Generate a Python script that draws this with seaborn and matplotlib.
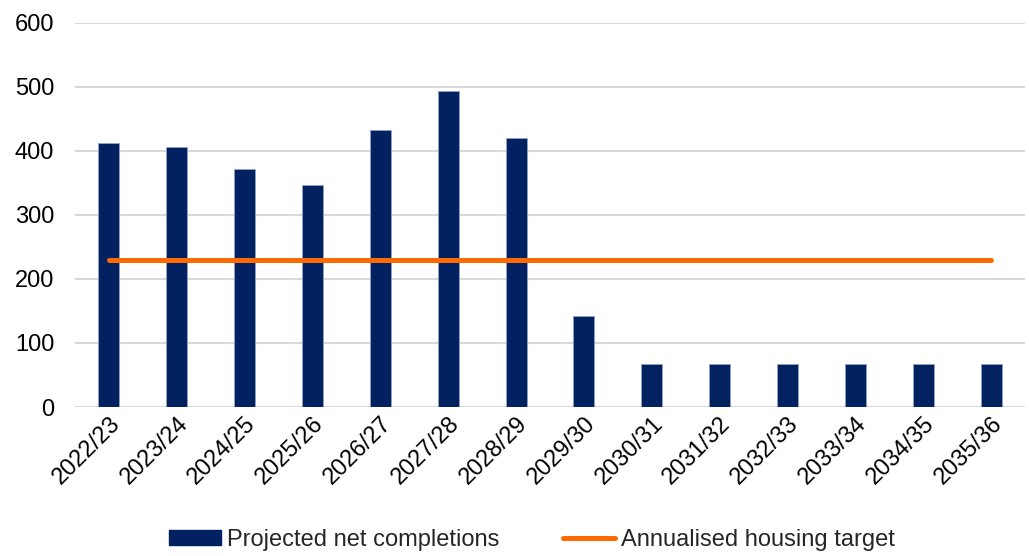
import matplotlib
matplotlib.use("Agg")
import matplotlib.pyplot as plt
import seaborn as sns
from matplotlib.patches import Patch
from matplotlib.lines import Line2D

years = ["2022/23", "2023/24", "2024/25", "2025/26", "2026/27", "2027/28", "2028/29",
         "2029/30", "2030/31", "2031/32", "2032/33", "2033/34", "2034/35", "2035/36"]
completions = [412, 405, 372, 347, 432, 493, 419, 142, 67, 67, 67, 67, 67, 67]
target = [230] * len(years)
y_ticks = [0, 100, 200, 300, 400, 500, 600]

bar_color = "#022160"
line_color = "#FF6A00"
grid_color = "#D9D9D9"
font_size = 17

sns.set_style("white")
plt.rcParams["font.family"] = ["Liberation Sans", "DejaVu Sans"]

fig = plt.figure(figsize=(10.29, 5.56), dpi=100)
ax = fig.add_axes([75 / 1029, 1 - 407 / 556, 950 / 1029, (407 - 22.5) / 556])

sns.barplot(x=years, y=completions, color=bar_color, width=0.31, ax=ax,
            edgecolor="#8FA3C8", linewidth=0.6, saturation=1, zorder=3)
sns.lineplot(x=years, y=target, color=line_color, linewidth=3.6, ax=ax,
             sort=False, zorder=4, solid_capstyle="round")

ax.set_xlim(-0.5, len(years) - 0.5)
ax.set_ylim(0, 600)
ax.set_yticks(y_ticks)
ax.set_yticklabels([str(v) for v in y_ticks], fontsize=font_size, color="#000000")
ax.set_xticks(range(len(years)))
ax.set_xticklabels(years, rotation=45, ha="right", rotation_mode="anchor",
                   fontsize=font_size, color="#000000")
ax.tick_params(axis="both", length=0)
ax.tick_params(axis="y", pad=15)
ax.tick_params(axis="x", pad=4)
ax.set_xlabel("")
ax.set_ylabel("")
ax.yaxis.grid(True, color=grid_color, linewidth=1.5, zorder=0)
ax.set_axisbelow(True)
for s in ax.spines.values():
    s.set_visible(False)

handles = [Patch(facecolor=bar_color, edgecolor=bar_color),
           Line2D([0], [0], color=line_color, linewidth=3.6, solid_capstyle="round")]
labels = ["Projected net completions", "Annualised housing target"]
fig.legend(handles, labels, loc="center", bbox_to_anchor=(0.517, 1 - 540 / 556),
           ncol=2, frameon=False, fontsize=font_size, handlelength=2.2,
           handleheight=0.6, handletextpad=0.25, columnspacing=2.7)

fig.savefig("out.png", dpi=100)
